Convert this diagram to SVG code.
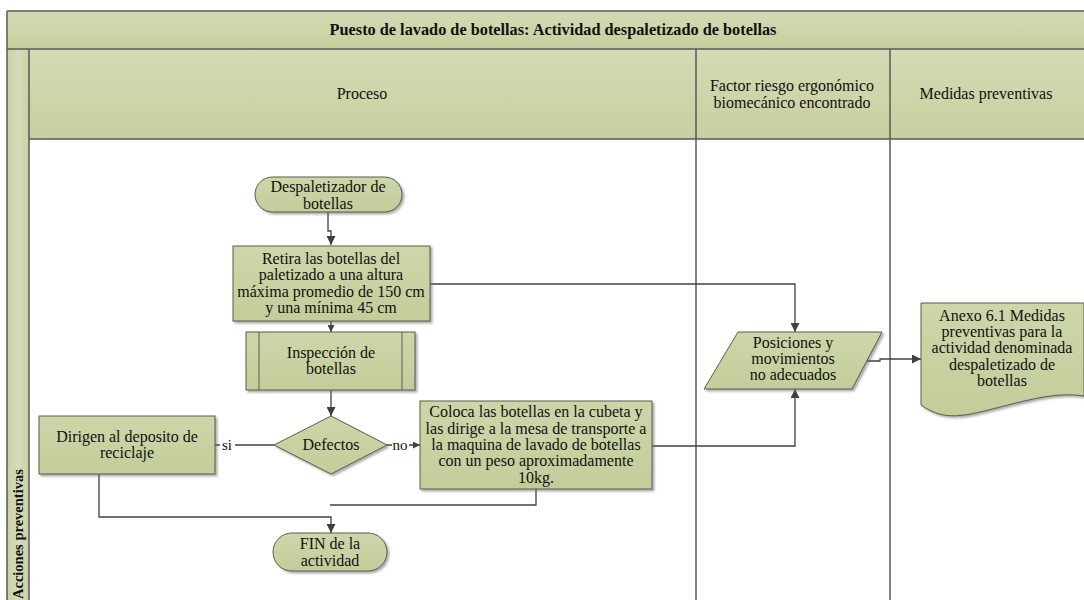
<svg xmlns="http://www.w3.org/2000/svg" width="1084" height="600" viewBox="0 0 1084 600">
  <defs>
    <linearGradient id="hdr" x1="0" y1="0" x2="0" y2="1">
      <stop offset="0" stop-color="#d4dbb5"/>
      <stop offset="1" stop-color="#c7cf9f"/>
    </linearGradient>
    <linearGradient id="rail" x1="0" y1="0" x2="1" y2="0">
      <stop offset="0" stop-color="#c9d1a3"/>
      <stop offset="0.5" stop-color="#d6dcb8"/>
      <stop offset="1" stop-color="#c9d1a3"/>
    </linearGradient>
    <linearGradient id="nodeFill" x1="0" y1="0" x2="0" y2="1">
      <stop offset="0" stop-color="#cdd6a9"/>
      <stop offset="1" stop-color="#c3cd9a"/>
    </linearGradient>
    <filter id="shadow" x="-10%" y="-10%" width="130%" height="140%">
      <feDropShadow dx="2" dy="2" stdDeviation="1" flood-color="#6b6b6b" flood-opacity="0.55"/>
    </filter>
    <marker id="arrow" viewBox="0 0 10 10" refX="10" refY="5" markerWidth="9" markerHeight="9" markerUnits="userSpaceOnUse" orient="auto">
      <path d="M0,0 L10,5 L0,10 Z" fill="#404040"/>
    </marker>
    <marker id="arrowSmall" viewBox="0 0 10 10" refX="10" refY="5" markerWidth="7" markerHeight="7" markerUnits="userSpaceOnUse" orient="auto">
      <path d="M0,0 L10,5 L0,10 Z" fill="#404040"/>
    </marker>
  </defs>
  <style>
    text { font-family: 'Liberation Serif', 'DejaVu Serif', serif; font-size: 16px; fill: #111; text-anchor: middle; }
    .title { font-weight: bold; font-size: 16.3px; }
    .rail-label { font-weight: bold; font-size: 14.5px; text-anchor: start; }
    .frame { stroke: #5a5a5a; stroke-width: 1.5; fill: none; }
    .node { fill: url(#nodeFill); stroke: #5c5d4c; stroke-width: 1; filter: url(#shadow); }
    .node-line { stroke: #5c5d4c; stroke-width: 1; fill: none; }
    .conn { stroke: #404040; stroke-width: 1.3; fill: none; }
    .lbl { font-size: 15px; }
  </style>

  <rect width="1084" height="600" fill="#ffffff"/>

  <g font-family="Liberation Serif, DejaVu Serif, serif">
  <!-- swimlane frame -->
  <g id="lanes">
    <rect x="7" y="11" width="1090" height="38" fill="url(#hdr)"/>
    <rect x="29" y="49" width="1068" height="90" fill="url(#hdr)"/>
    <rect x="7" y="49" width="22" height="560" fill="url(#rail)"/>
    <path class="frame" d="M7,11 H1084 M7,49 H1084 M29,139 H1084 M7,11 V600 M29,49 V600 M696,49 V600 M890,49 V600"/>
    <text class="title" x="553" y="35">Puesto de lavado de botellas: Actividad despaletizado de botellas</text>
    <text x="362" y="99">Proceso</text>
    <text x="792" y="91">Factor riesgo ergonómico</text>
    <text x="792" y="108">biomecánico encontrado</text>
    <text x="986" y="99">Medidas preventivas</text>
    <text class="rail-label" transform="translate(23,599) rotate(-90)">Acciones preventivas</text>
  </g>

  <!-- connectors -->
  <g id="connectors">
    <path class="conn" d="M328,212 V231 H331 V245" marker-end="url(#arrow)"/>
    <path class="conn" d="M331,321 V332" marker-end="url(#arrowSmall)"/>
    <path class="conn" d="M331,390 V416" marker-end="url(#arrow)"/>
    <path class="conn" d="M274,445 H215"/>
    <path class="conn" d="M387,445 H420" marker-end="url(#arrowSmall)"/>
    <path class="conn" d="M430,284 H795 V332" marker-end="url(#arrow)"/>
    <path class="conn" d="M652,446 H795 V389" marker-end="url(#arrow)"/>
    <path class="conn" d="M866,361 H880 V359 H921" marker-end="url(#arrow)"/>
    <path class="conn" d="M536,489 V505 H330"/>
    <path class="conn" d="M99,474 V517 H331 V533" marker-end="url(#arrow)"/>
    <rect x="220" y="437" width="15" height="16" fill="#ffffff"/>
    <text class="lbl" x="227" y="450">si</text>
    <rect x="392" y="437" width="17" height="16" fill="#ffffff"/>
    <text class="lbl" x="400" y="450">no</text>
  </g>

  <g id="start">
    <rect class="node" x="255" y="177" width="147" height="35" rx="17.5"/>
    <text x="328" y="192">Despaletizador de</text>
    <text x="328" y="209">botellas</text>
  </g>

  <g id="retira">
    <rect class="node" x="233" y="246" width="197" height="75"/>
    <text x="331" y="264">Retira las botellas del</text>
    <text x="331" y="280">paletizado a una altura</text>
    <text x="331" y="297">máxima promedio de 150 cm</text>
    <text x="331" y="313">y una mínima 45 cm</text>
  </g>

  <g id="inspeccion">
    <rect class="node" x="246" y="332" width="169" height="58"/>
    <path class="node-line" d="M259,332 V390 M402,332 V390"/>
    <text x="331" y="358">Inspección de</text>
    <text x="331" y="374">botellas</text>
  </g>

  <g id="defectos">
    <polygon class="node" points="331,416 387,445 331,474 274,445"/>
    <text x="331" y="450">Defectos</text>
  </g>

  <g id="dirigen">
    <rect class="node" x="39" y="416" width="176" height="58"/>
    <text x="127" y="442">Dirigen al deposito de</text>
    <text x="127" y="458">reciclaje</text>
  </g>

  <g id="coloca">
    <rect class="node" x="420" y="401" width="232" height="88"/>
    <text x="536" y="417">Coloca las botellas en la cubeta y</text>
    <text x="536" y="434">las dirige a la mesa de transporte a</text>
    <text x="536" y="450">la maquina de lavado de botellas</text>
    <text x="536" y="466">con un peso aproximadamente</text>
    <text x="536" y="483">10kg.</text>
  </g>

  <g id="fin">
    <rect class="node" x="273" y="533" width="114" height="38" rx="19"/>
    <text x="330" y="549">FIN de la</text>
    <text x="330" y="566">actividad</text>
  </g>

  <g id="posiciones">
    <polygon class="node" points="738,332 882,332 852,389 704,389"/>
    <text x="793" y="348">Posiciones y</text>
    <text x="793" y="364">movimientos</text>
    <text x="793" y="380">no adecuados</text>
  </g>

  <g id="anexo">
    <path class="node" d="M921,303 H1084 V396 C1060,392 1035,398 1000,407 C965,416 945,422 921,405 Z"/>
    <text x="1002" y="321">Anexo 6.1 Medidas</text>
    <text x="1002" y="337">preventivas para la</text>
    <text x="1002" y="353">actividad denominada</text>
    <text x="1002" y="370">despaletizado de</text>
    <text x="1002" y="386">botellas</text>
  </g>
  </g>
</svg>
